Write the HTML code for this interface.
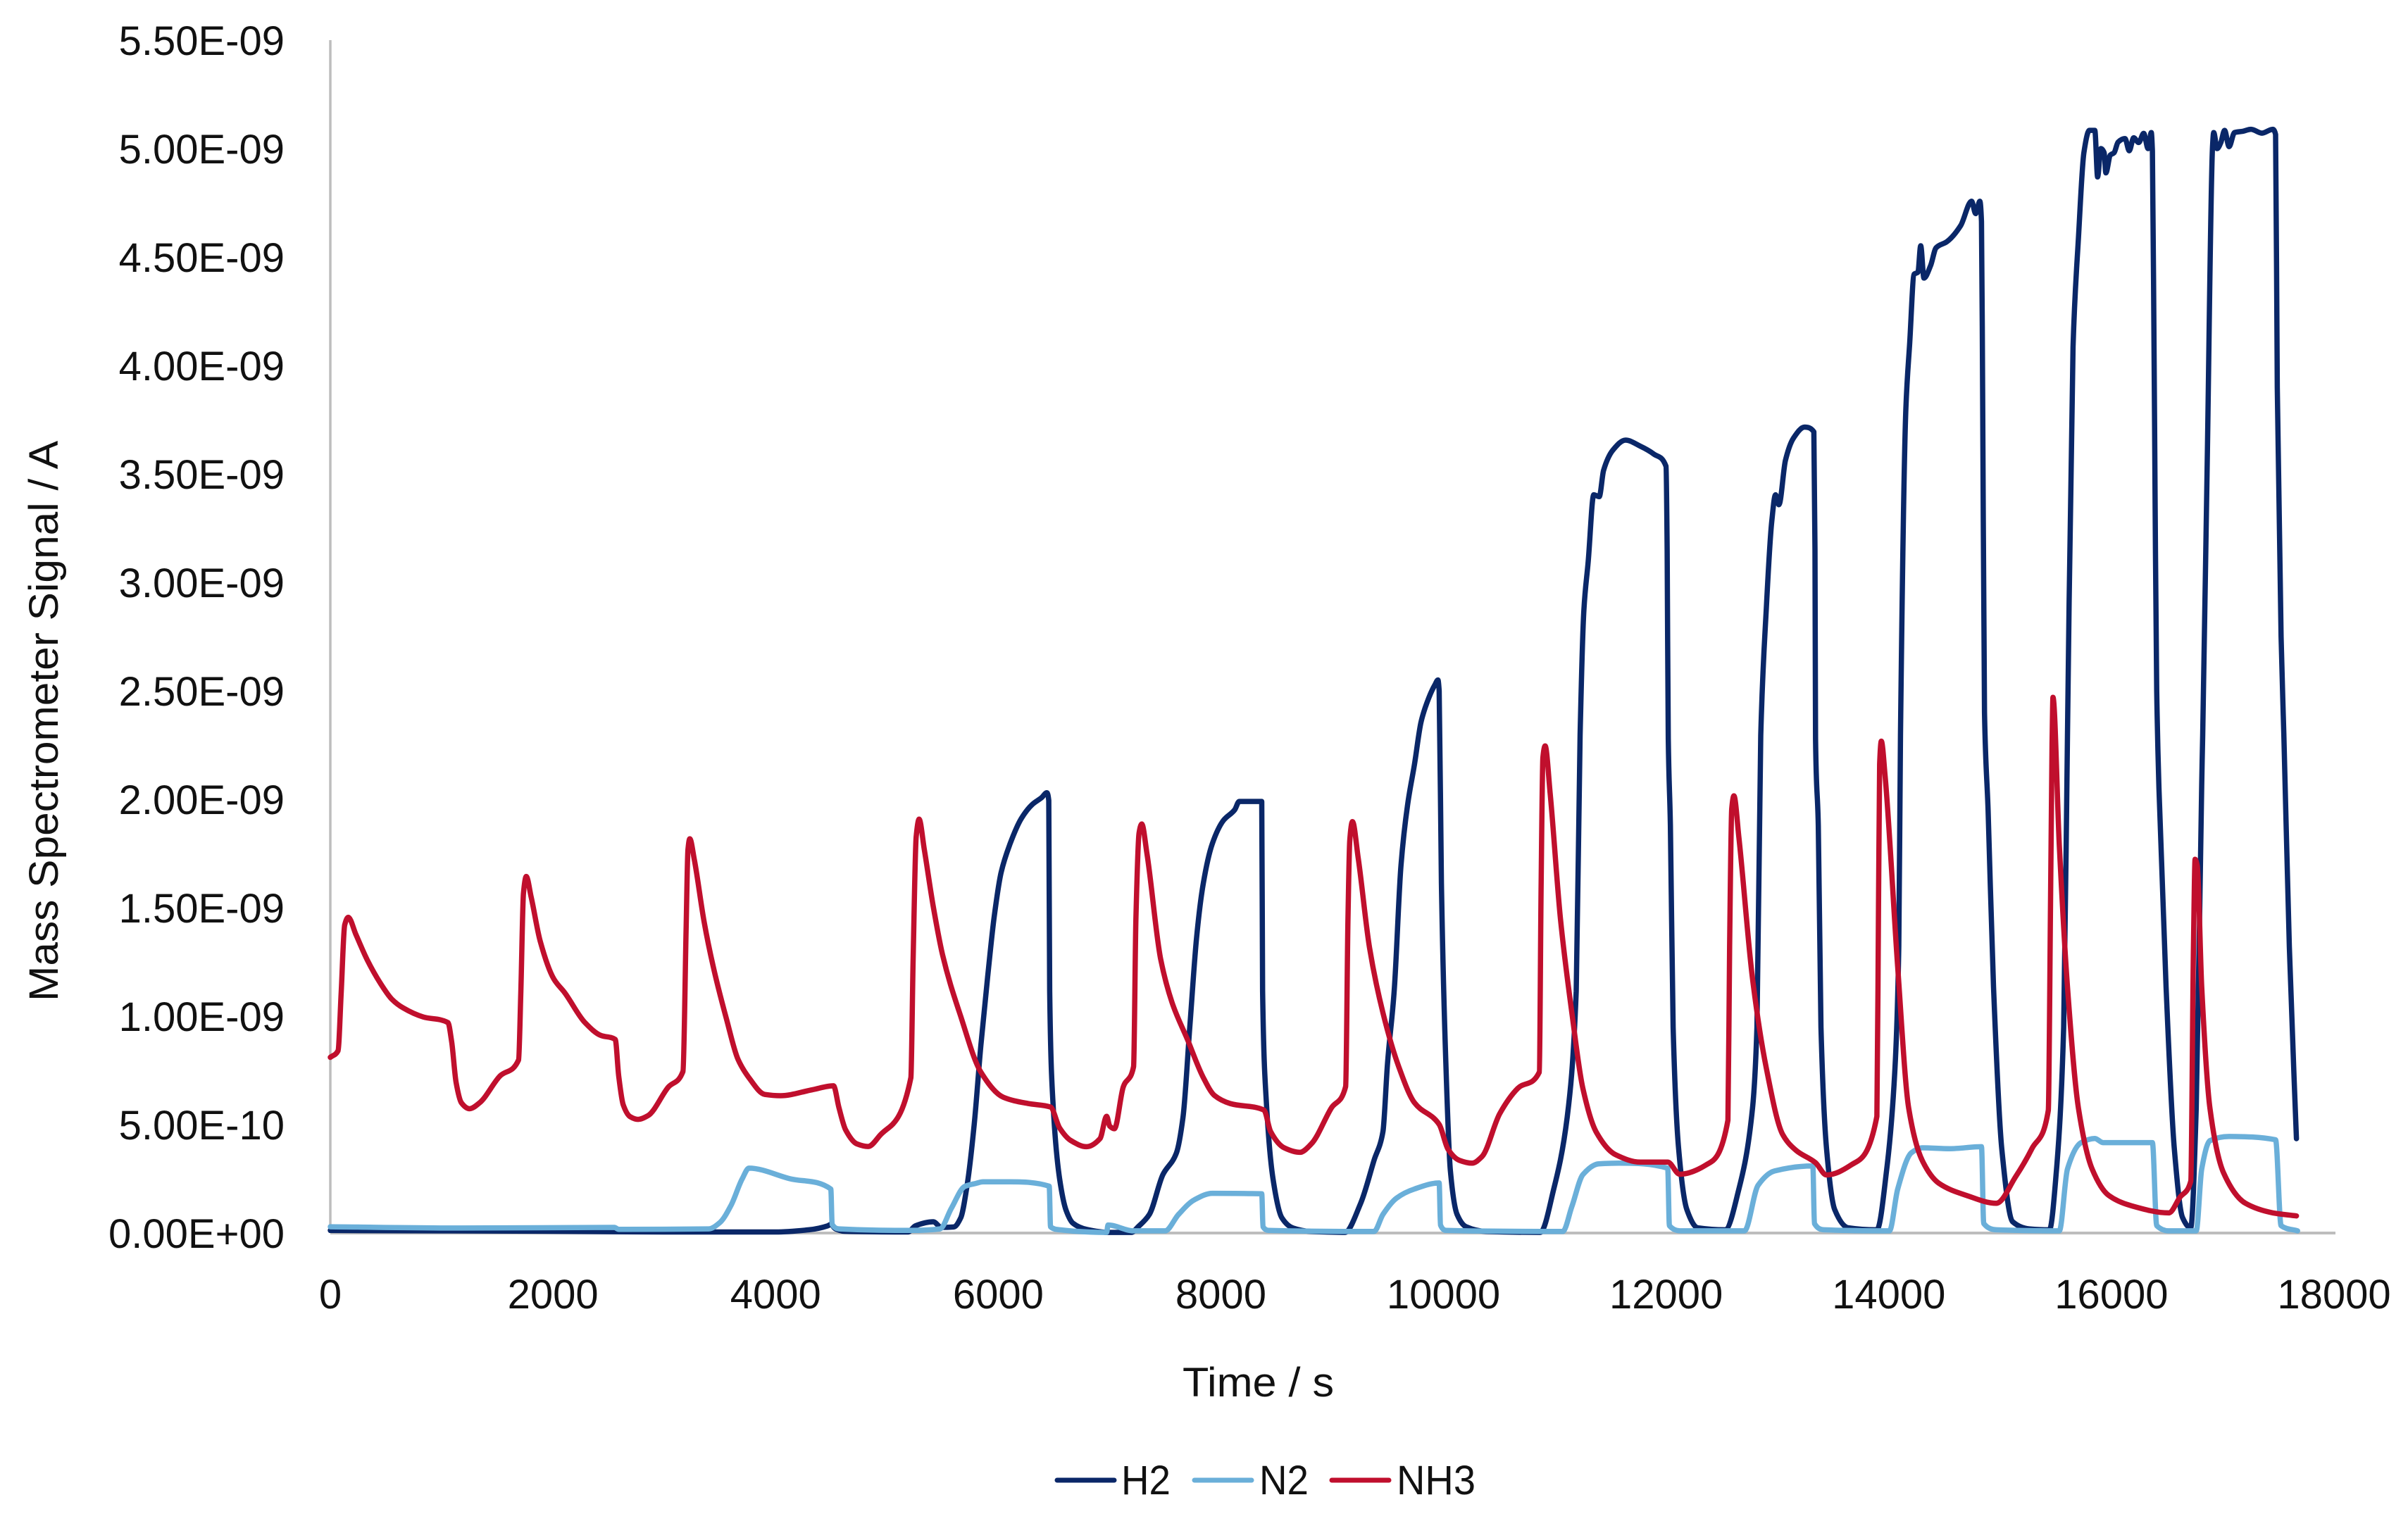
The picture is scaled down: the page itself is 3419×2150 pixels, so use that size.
<!DOCTYPE html>
<html lang="en">
<head>
<meta charset="utf-8">
<title>Mass Spectrometer Signal vs Time</title>
<style>
html,body{margin:0;padding:0;background:#fff;}
svg{display:block;}
text{font-family:"Liberation Sans",sans-serif;fill:#111;}
</style>
</head>
<body>
<svg id="chart" xmlns="http://www.w3.org/2000/svg" width="3419" height="2150" viewBox="0 0 3419 2150">
<rect x="0" y="0" width="3419" height="2150" fill="#ffffff"/>
<line x1="469" y1="57" x2="469" y2="1751" stroke="#BDBDBD" stroke-width="3.5"/>
<line x1="469" y1="1751" x2="3316" y2="1751" stroke="#BDBDBD" stroke-width="4"/>
<g id="y-ticks"></g>
<g id="x-ticks"></g>
<g id="series"></g>
<text transform="translate(82,1422) rotate(-90)" font-size="58" textLength="796" lengthAdjust="spacingAndGlyphs">Mass Spectrometer Signal / A</text>
<text x="1679" y="1983" font-size="58" textLength="215" lengthAdjust="spacingAndGlyphs">Time / s</text>
<g>
<g>
<line x1="1501" y1="2102" x2="1582" y2="2102" stroke="#0A2768" stroke-width="7" stroke-linecap="round"/>
<text x="1592" y="2122" font-size="58" textLength="70" lengthAdjust="spacingAndGlyphs">H2</text>
</g>
<g>
<line x1="1696" y1="2102" x2="1777" y2="2102" stroke="#6AAFD9" stroke-width="7" stroke-linecap="round"/>
<text x="1788" y="2122" font-size="58" textLength="70" lengthAdjust="spacingAndGlyphs">N2</text>
</g>
<g>
<line x1="1891" y1="2102" x2="1972" y2="2102" stroke="#C00F2D" stroke-width="7" stroke-linecap="round"/>
<text x="1983" y="2122" font-size="58" textLength="112" lengthAdjust="spacingAndGlyphs">NH3</text>
</g>
</g>
</svg>
<script>
var yTickValues = [0, 0.5, 1, 1.5, 2, 2.5, 3, 3.5, 4, 4.5, 5, 5.5];
var yTickLabels = ["0.00E+00","5.00E-10","1.00E-09","1.50E-09","2.00E-09","2.50E-09","3.00E-09","3.50E-09","4.00E-09","4.50E-09","5.00E-09","5.50E-09"];
var xTickValues = [0,2000,4000,6000,8000,10000,12000,14000,16000,18000];
var xTickLabels = ["0","2000","4000","6000","8000","10000","12000","14000","16000","18000"];

var h2Times = [0,1000,2000,3000,4000,4300,4468,4496,4536,4620,5190,5255,5416,5490,5600,5663,5723,5784,5844,5905,5965,6026,6107,6207,6308,6389,6437,6454,6462,6490,6551,6611,6672,6793,6994,7196,7257,7358,7479,7600,7660,7721,7782,7842,7923,8024,8125,8165,8367,8375,8407,8468,8548,8649,8811,9113,9255,9376,9456,9497,9557,9618,9678,9739,9799,9870,9925,9950,9961,9981,10021,10062,10122,10203,10384,10869,10990,11111,11192,11227,11261,11300,11350,11399,11438,11522,11635,11768,11891,11999,12009,12019,12038,12063,12112,12186,12284,12530,12653,12776,12816,12850,12899,12949,12983,13013,13072,13145,13244,13327,13337,13342,13367,13391,13441,13514,13637,13893,13982,14056,14090,14105,14154,14188,14228,14262,14287,14316,14375,14425,14523,14646,14744,14780,14818,14833,14843,14860,14892,14941,15015,15113,15261,15443,15507,15571,15605,15655,15704,15753,15802,15851,15876,15905,15935,15950,15990,16024,16060,16122,16160,16200,16245,16290,16330,16358,16368,16383,16393,16407,16427,16491,16565,16639,16712,16762,16811,16820,16860,16909,16919,16950,16983,17017,17057,17106,17180,17254,17352,17450,17475,17490,17524,17549,17598,17662];
var h2Values = [0.012,0.01,0.008,0.005,0.005,0.015,0.033,0.04,0.02,0.008,0.005,0.033,0.052,0.026,0.028,0.07,0.23,0.5,0.866,1.181,1.463,1.662,1.795,1.911,1.977,2.007,2.03,1.994,1.115,0.617,0.252,0.103,0.045,0.017,0.003,0.003,0.029,0.086,0.269,0.368,0.534,0.949,1.363,1.612,1.795,1.903,1.952,1.99,1.99,1.115,0.617,0.252,0.07,0.023,0.007,0.003,0.136,0.335,0.468,0.783,1.115,1.695,1.977,2.16,2.358,2.47,2.53,2.55,2.5,1.612,0.783,0.285,0.086,0.029,0.007,0.003,0.202,0.534,1.115,2.294,2.873,3.096,3.404,3.395,3.516,3.61,3.656,3.628,3.591,3.535,3.152,2.28,1.88,0.949,0.389,0.108,0.024,0.015,0.202,0.575,0.948,2.294,2.873,3.283,3.404,3.358,3.563,3.666,3.716,3.694,3.152,2.28,1.88,0.949,0.389,0.108,0.024,0.015,0.295,0.761,1.322,2.294,3.805,4.104,4.421,4.43,4.552,4.403,4.459,4.543,4.571,4.645,4.757,4.70,4.757,4.664,3.899,2.4,1.95,1.135,0.389,0.052,0.019,0.015,0.295,0.948,2.294,4.085,4.589,4.981,5.084,5.084,4.869,5.0,4.981,4.888,4.97,4.981,5.03,5.046,4.99,5.05,5.028,5.07,5.0,5.074,4.99,4.085,3.339,2.5,2.05,1.135,0.389,0.071,0.024,0.575,2.068,2.294,3.526,5.018,5.074,5.0,5.028,5.084,5.009,5.074,5.08,5.089,5.071,5.089,5.065,3.899,2.75,2.3,1.322,0.435];

var n2Times = [0,1178,2551,2591,3398,3499,3600,3701,3761,4125,4496,4508,4569,5215,5477,5578,5699,5800,5864,6107,6458,6470,6551,6974,6986,7216,7499,7620,7761,7923,8367,8379,8427,9376,9456,9578,9739,9961,9973,10021,11071,11152,11252,11394,11575,12014,12029,12137,12703,12826,12973,13318,13332,13416,14006,14080,14203,14302,14548,14833,14853,14966,15532,15605,15728,15851,15925,16368,16407,16516,16762,16811,16885,17057,17475,17524,17672];
var n2Values = [0.029,0.023,0.026,0.017,0.019,0.048,0.128,0.251,0.299,0.251,0.203,0.04,0.019,0.012,0.019,0.113,0.215,0.229,0.236,0.236,0.216,0.029,0.015,0.003,0.037,0.01,0.01,0.086,0.153,0.183,0.181,0.029,0.012,0.007,0.086,0.161,0.203,0.231,0.037,0.012,0.007,0.12,0.269,0.319,0.322,0.299,0.034,0.01,0.01,0.22,0.286,0.309,0.044,0.015,0.01,0.202,0.37,0.393,0.389,0.398,0.044,0.015,0.01,0.295,0.417,0.436,0.417,0.417,0.034,0.01,0.01,0.295,0.426,0.445,0.43,0.034,0.01];

var nh3Times = [0,69,97,129,161,230,331,452,553,654,835,1057,1090,1130,1178,1251,1340,1522,1691,1711,1735,1760,1804,1885,2006,2107,2288,2430,2559,2591,2631,2692,2765,2853,3035,3168,3196,3213,3229,3269,3358,3439,3560,3661,3761,3903,4044,4326,4520,4569,4629,4730,4831,4932,5215,5235,5263,5289,5336,5416,5501,5663,5844,6046,6268,6470,6551,6651,6793,6914,6974,7002,7043,7124,7216,7237,7265,7289,7337,7459,7560,7701,7842,7943,8084,8387,8447,8569,8710,8811,8992,9121,9142,9158,9182,9234,9336,9456,9598,9739,9961,10042,10143,10256,10345,10506,10667,10861,10877,10893,10913,10958,11051,11152,11251,11374,11546,11768,12014,12122,12358,12555,12570,12589,12609,12653,12776,12899,13047,13170,13342,13441,13662,13893,13908,13918,13933,13967,14080,14179,14302,14449,14695,14966,15138,15286,15433,15453,15467,15475,15532,15605,15704,15827,15974,16171,16516,16614,16713,16737,16752,16771,16811,16885,17008,17205,17451,17662];
var nh3Values = [0.81,0.84,1.1,1.42,1.456,1.376,1.26,1.15,1.078,1.038,0.996,0.97,0.882,0.694,0.6,0.573,0.6,0.723,0.798,1.1,1.565,1.644,1.55,1.347,1.173,1.107,0.97,0.911,0.893,0.723,0.592,0.537,0.524,0.541,0.672,0.745,1.39,1.768,1.818,1.724,1.434,1.23,0.984,0.803,0.716,0.639,0.633,0.66,0.679,0.578,0.476,0.411,0.399,0.447,0.716,1.245,1.826,1.908,1.768,1.507,1.28,0.999,0.742,0.626,0.597,0.581,0.485,0.427,0.398,0.435,0.538,0.493,0.481,0.675,0.767,1.446,1.844,1.886,1.745,1.264,1.065,0.891,0.717,0.634,0.597,0.567,0.468,0.393,0.372,0.41,0.576,0.675,1.446,1.811,1.897,1.728,1.314,1.015,0.767,0.601,0.501,0.385,0.335,0.322,0.352,0.551,0.667,0.742,1.612,2.193,2.246,2.027,1.446,1.02,0.669,0.464,0.361,0.327,0.327,0.271,0.314,0.52,1.322,1.956,2.016,1.826,1.173,0.762,0.454,0.38,0.324,0.268,0.314,0.538,1.508,2.161,2.268,2.106,1.229,0.575,0.333,0.23,0.174,0.137,0.258,0.389,0.566,1.508,2.255,2.47,1.788,1.135,0.575,0.295,0.174,0.127,0.093,0.164,0.239,1.322,1.723,1.695,1.135,0.575,0.277,0.137,0.093,0.079];

var seriesNames = ["h2-line","n2-line","nh3-line"];
var seriesColors = ["#0A2768","#6AAFD9","#C00F2D"];
var seriesTimes = [h2Times,n2Times,nh3Times];
var seriesValues = [h2Values,n2Values,nh3Values];

var NS = "http://www.w3.org/2000/svg";
function xScale(t){ return 469 + t * (3314 - 469) / 18000; }
function yScale(v){ return 1751 - v * 308; }

/* Monotone cubic path through screen points, so curves stay smooth with no overshoot. */
function monotonePath(xs, ys){
  var n = xs.length, d = [], m = [], i;
  for(i = 0; i < n - 1; i++){ d.push((ys[i+1] - ys[i]) / (xs[i+1] - xs[i])); }
  m.push(d[0]);
  for(i = 1; i < n - 1; i++){
    if(d[i-1] * d[i] <= 0){ m.push(0); }
    else {
      var h0 = xs[i] - xs[i-1], h1 = xs[i+1] - xs[i];
      var w1 = 2 * h1 + h0, w2 = h1 + 2 * h0;
      m.push((w1 + w2) / (w1 / d[i-1] + w2 / d[i]));
    }
  }
  m.push(d[n-2]);
  var out = "M" + xs[0].toFixed(1) + " " + ys[0].toFixed(1);
  for(i = 0; i < n - 1; i++){
    var h = (xs[i+1] - xs[i]) / 3;
    out += "C" + (xs[i] + h).toFixed(1) + " " + (ys[i] + m[i] * h).toFixed(1) + " " +
           (xs[i+1] - h).toFixed(1) + " " + (ys[i+1] - m[i+1] * h).toFixed(1) + " " +
           xs[i+1].toFixed(1) + " " + ys[i+1].toFixed(1);
  }
  return out;
}

var yGroup = document.getElementById("y-ticks");
yTickValues.forEach(function(v,i){
  var el = document.createElementNS(NS,"text");
  
  
  el.setAttribute("x", 404);
  el.setAttribute("y", yScale(v) + 21);
  el.setAttribute("text-anchor", "end");
  el.setAttribute("font-size", "58");
  el.textContent = yTickLabels[i];
  yGroup.appendChild(el);
});

var xGroup = document.getElementById("x-ticks");
xTickValues.forEach(function(t,i){
  var el = document.createElementNS(NS,"text");
  
  
  el.setAttribute("x", xScale(t));
  el.setAttribute("y", 1858);
  el.setAttribute("text-anchor", "middle");
  el.setAttribute("font-size", "58");
  el.textContent = xTickLabels[i];
  xGroup.appendChild(el);
});

var sGroup = document.getElementById("series");
seriesNames.forEach(function(name,i){
  var xs = seriesTimes[i].map(xScale);
  var ys = seriesValues[i].map(yScale);
  var el = document.createElementNS(NS,"path");
  
  
  el.setAttribute("d", monotonePath(xs, ys));
  el.setAttribute("fill", "none");
  el.setAttribute("stroke", seriesColors[i]);
  el.setAttribute("stroke-width", "7.5");
  el.setAttribute("stroke-linejoin", "round");
  el.setAttribute("stroke-linecap", "round");
  sGroup.appendChild(el);
});
</script>
</body>
</html>
